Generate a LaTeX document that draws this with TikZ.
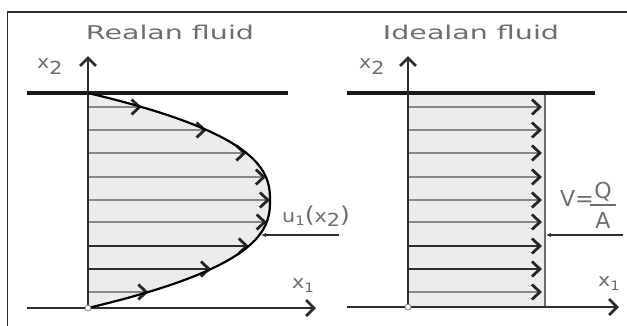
\documentclass[tikz,border=0pt]{standalone}
\usepackage{fontspec}
\newfontfamily\titlefont[FakeStretch=1.5]{DejaVu Sans}
\newfontfamily\labfont[FakeStretch=1.15]{DejaVu Sans}
\newfontfamily\plainfont{DejaVu Sans}
\usetikzlibrary{arrows.meta}
\definecolor{txtgray}{RGB}{110,110,110}
\definecolor{fillgray}{RGB}{236,236,236}
\definecolor{linegray}{RGB}{135,135,135}
\definecolor{linedark}{RGB}{45,45,45}
\begin{document}
\begin{tikzpicture}[x=1pt,y=-1pt,
  title/.style={text=txtgray,font=\titlefont\fontsize{19}{22}\selectfont,inner sep=0pt},
  lab/.style={text=txtgray,font=\labfont\fontsize{18}{20}\selectfont,inner sep=0pt},
  wall/.style={line width=4pt,black!90},
  axisline/.style={line width=2.4pt,linedark,-{Straight Barb[length=8pt,width=16pt,line width=2.8pt]}},
  flowlight/.style={line width=2pt,linegray,-{Straight Barb[length=8pt,width=15pt,line width=2.8pt,color=black!85]}},
  flowdark/.style={line width=2pt,linedark,-{Straight Barb[length=8pt,width=15pt,line width=2.8pt,color=black!85]}},
  pointer/.style={line width=2.2pt,linedark,-{Latex[length=5pt,width=4.5pt]}},
  origin/.style={circle,draw=linegray,fill=white,line width=0.8pt,inner sep=0pt,minimum size=6pt}
]
\useasboundingbox (0,0) rectangle (627,325);
% frame
\draw[line width=1.5pt,linedark] (7.5,326) -- (7.5,12) -- (628,12);

% ---------- left panel: real fluid ----------
\coordinate (L0) at (88,308);
\coordinate (Ltop) at (88,93);
\fill[fillgray] (Ltop) -- plot[domain=-1:1,samples=81] ({88+182*(1-\x*\x*sqrt(abs(\x)))},{200.5+107.5*\x}) -- cycle;
\foreach \y [count=\i] in {107,130,153,177,200,222,246,269,292}{
  \pgfmathsetmacro\d{(\y-200.5)/107.5}
  \pgfmathsetmacro\xe{88+182*(1-\d*\d*sqrt(abs(\d)))}
  \coordinate (ls\i) at (88,\y);
  \coordinate (le\i) at (\xe,\y);
  \ifnum\i=7 \draw[flowdark] (ls\i) -- (le\i);
  \else\ifnum\i=8 \draw[flowdark] (ls\i) -- (le\i);
  \else \draw[flowlight] (ls\i) -- (le\i);\fi\fi
}
\coordinate (Lwa) at (27,93);
\coordinate (Lwb) at (288,93);
\draw[wall] (Lwa) -- (Lwb);
\coordinate (Lx1a) at (27,308);
\coordinate (Lx1b) at (316,308);
\coordinate (Lx2b) at (88,56);
\draw[axisline] (Lx1a) -- (Lx1b);
\draw[axisline] (L0) -- (Lx2b);
\draw[line width=2.2pt,black] (Ltop) -- plot[domain=-1:1,samples=81] ({88+182*(1-\x*\x*sqrt(abs(\x)))},{200.5+107.5*\x});
\node[origin] (Lo) at (L0) {};
\node[title] (Ltitle) at (170,32) {Realan fluid};
\node[lab,anchor=base west] (Lx2) at (37,68) {x\raisebox{-6pt}{2}};
\node[lab,anchor=base west] (Lx1) at (292,288) {x\raisebox{-4pt}{\fontsize{13}{13}\selectfont 1}};
\node[lab,anchor=base west] (Lu) at (282,222) {u\raisebox{-3pt}{\fontsize{13}{13}\selectfont 1}{\fontsize{22}{22}\selectfont(}x\raisebox{-4pt}{2}{\fontsize{22}{22}\selectfont)}};
\coordinate (Lpa) at (339,235);
\coordinate (Lpb) at (261,235);
\draw[pointer] (Lpa) -- (Lpb);

% ---------- right panel: ideal fluid ----------
\coordinate (R0) at (408,307);
\coordinate (Rtop) at (408,93);
\coordinate (Rc1) at (545,93);
\coordinate (Rc2) at (545,307);
\fill[fillgray] (Rtop) rectangle (Rc2);
\foreach \y [count=\i] in {107,130,153,177,200,222,246,269,292}{
  \coordinate (rs\i) at (408,\y);
  \coordinate (re\i) at (542,\y);
  \ifnum\i=7 \draw[flowdark] (rs\i) -- (re\i);
  \else\ifnum\i=8 \draw[flowdark] (rs\i) -- (re\i);
  \else \draw[flowlight] (rs\i) -- (re\i);\fi\fi
}
\draw[line width=2.2pt,linegray!80!black] (Rc1) -- (Rc2);
\coordinate (Rwa) at (347,93);
\coordinate (Rwb) at (595,93);
\draw[wall] (Rwa) -- (Rwb);
\coordinate (Rx1a) at (347,307);
\coordinate (Rx1b) at (619,307);
\coordinate (Rx2b) at (408,56);
\draw[axisline] (Rx1a) -- (Rx1b);
\draw[axisline] (R0) -- (Rx2b);
\node[origin] (Ro) at (R0) {};
\node[title] (Rtitle) at (471,32) {Idealan fluid};
\node[lab,anchor=base west] (Rx2) at (359,68) {x\raisebox{-6pt}{2}};
\node[lab,anchor=base west] (Rx1) at (598,286) {x\raisebox{-4pt}{\fontsize{13}{13}\selectfont 1}};
\node[lab,anchor=base west,font=\plainfont\fontsize{22}{24}\selectfont] (RV) at (560,206) {V=};
\node[lab,anchor=base,font=\plainfont\fontsize{22}{24}\selectfont] (RQ) at (603,198) {Q};
\node[lab,anchor=base,font=\plainfont\fontsize{22}{24}\selectfont] (RA) at (603,228) {A};
\coordinate (Rba) at (590,205);
\coordinate (Rbb) at (616,205);
\draw[line width=1.8pt,txtgray] (Rba) -- (Rbb);
\coordinate (Rpa) at (623,235);
\coordinate (Rpb) at (546,235);
\draw[pointer] (Rpa) -- (Rpb);
\end{tikzpicture}
\end{document}
